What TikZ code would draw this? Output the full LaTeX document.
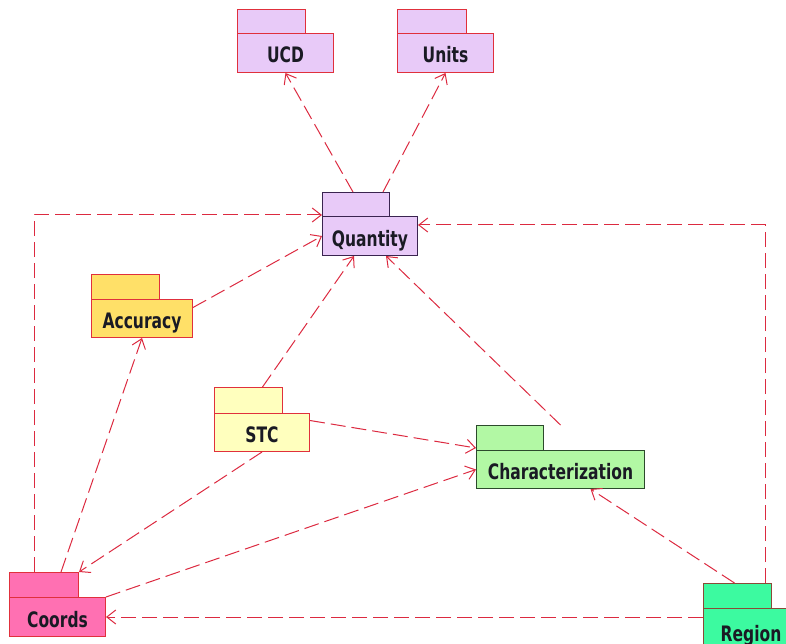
\documentclass[tikz,border=0pt]{standalone}
\usepackage{fontspec}
\usepackage{graphicx}
\newfontfamily\pkgfont{DejaVu Sans}
\usetikzlibrary{arrows.meta}

% package names are set in a tall bold sans
\newcommand\pkglabel[1]{\scalebox{0.97}[1.33]{#1}}

\definecolor{deplink}{HTML}{DC2A40}
\definecolor{lavfill}{HTML}{E8CAF8}
\definecolor{goldfill}{HTML}{FFE068}
\definecolor{creamfill}{HTML}{FFFFBE}
\definecolor{mintfill}{HTML}{B2F8A4}
\definecolor{pinkfill}{HTML}{FF70B2}
\definecolor{springfill}{HTML}{3CFAA0}
\definecolor{redline}{HTML}{E0303C}
\definecolor{plumline}{HTML}{3A2450}
\definecolor{greenline}{HTML}{2C4A2C}
\definecolor{brownline}{HTML}{8A4A38}
\definecolor{labelink}{HTML}{1A1A24}

\tikzset{
  pkg/.style={draw, line width=1pt, inner sep=0pt, anchor=north west,
    text height=20pt, text depth=0pt,
    text=labelink, font=\pkgfont\bfseries\fontsize{16}{19}\selectfont},
  pkgtab/.style={draw, line width=1pt, inner sep=0pt, anchor=north west},
  dep/.style={draw=deplink, line width=1pt, dash pattern=on 15pt off 6pt,
    -{Straight Barb[length=9pt,width=14pt,line width=1pt]}},
}

\begin{document}
\begin{tikzpicture}[x=1pt,y=-1pt]
\useasboundingbox (0,0) rectangle (786,644);
\clip (0,0) rectangle (786,644);

% packages: tab above, body with the name
\node[pkgtab, fill=lavfill, draw=redline, minimum width=68pt, minimum height=24pt] (ucd-tab) at (237,9) {};
\node[pkg, fill=lavfill, draw=redline, minimum width=96pt, minimum height=39pt] (ucd) at (237,33) {\pkglabel{UCD}};

\node[pkgtab, fill=lavfill, draw=redline, minimum width=69pt, minimum height=24pt] (units-tab) at (397,9) {};
\node[pkg, fill=lavfill, draw=redline, minimum width=96pt, minimum height=39pt] (units) at (397,33) {\pkglabel{Units}};

\node[pkgtab, fill=lavfill, draw=plumline, minimum width=67pt, minimum height=24pt] (quant-tab) at (322,192) {};
\node[pkg, fill=lavfill, draw=plumline, minimum width=95pt, minimum height=39pt] (quant) at (322,216) {\pkglabel{Quantity}};

\node[pkgtab, fill=goldfill, draw=redline, minimum width=68pt, minimum height=25pt] (acc-tab) at (91,274) {};
\node[pkg, fill=goldfill, draw=redline, minimum width=101pt, minimum height=38pt] (acc) at (91,299) {\pkglabel{Accuracy}};

\node[pkgtab, fill=creamfill, draw=redline, minimum width=68pt, minimum height=26pt] (stc-tab) at (214,387) {};
\node[pkg, fill=creamfill, draw=redline, minimum width=95pt, minimum height=38pt] (stc) at (214,413) {\pkglabel{STC}};

\node[pkgtab, fill=mintfill, draw=greenline, minimum width=67pt, minimum height=25pt] (char-tab) at (476,425) {};
\node[pkg, fill=mintfill, draw=greenline, minimum width=168pt, minimum height=38pt] (char) at (476,450) {\pkglabel{Characterization}};

\node[pkgtab, fill=pinkfill, draw=redline, minimum width=69pt, minimum height=25pt] (coords-tab) at (9,572) {};
\node[pkg, fill=pinkfill, draw=redline, minimum width=96pt, minimum height=39pt] (coords) at (9,597) {\pkglabel{Coords}};

\node[pkgtab, fill=springfill, draw=brownline, minimum width=68pt, minimum height=25pt] (region-tab) at (703,583) {};
\node[pkg, fill=springfill, draw=brownline, minimum width=95pt, minimum height=46pt] (region) at (703,608) {\pkglabel{Region}};

% dependencies
\draw[dep] ([xshift=-3pt]quant-tab.north) -- (ucd.south);
\draw[dep] ([xshift=-7pt]quant-tab.north east) -- (units.south);
\draw[dep] ([xshift=-10pt]coords-tab.north) |- ([yshift=2pt]quant-tab.south west);
\draw[dep] ([yshift=11pt]acc.east) -- (quant.west);
\draw[dep] ([xshift=14pt]stc-tab.north) -- ([xshift=-16pt]quant.south);
\draw[dep] (char.north |- char-tab.north) -- ([xshift=16pt]quant.south);
\draw[dep] ([xshift=-7pt]region-tab.north east) |- ([yshift=11pt]quant.east);
\draw[dep] ([yshift=12pt]stc.east) -- ([yshift=3pt]char-tab.south west);
\draw[dep] (stc.south) -- (coords-tab.north east);
\draw[dep] ([xshift=17pt]coords-tab.north) -- (acc.south);
\draw[dep] (coords.north east) -- (char.west);
\draw[dep] ([xshift=-3pt]region-tab.north) -- ([xshift=30pt]char.south);
\draw[dep] (coords.east -| region.west) -- (coords.east);
\end{tikzpicture}
\end{document}
